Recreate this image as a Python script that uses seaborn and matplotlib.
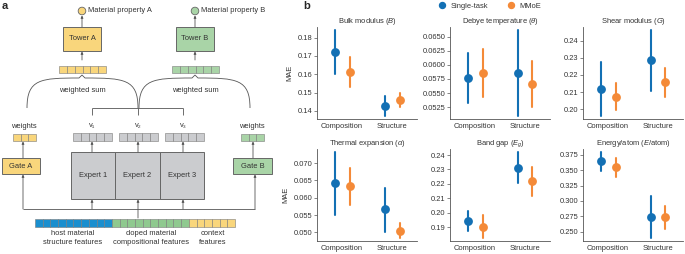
import numpy as np
import pandas as pd
import seaborn as sns
import matplotlib.pyplot as plt
from matplotlib.patches import Rectangle, Circle, PathPatch
from matplotlib.path import Path
from matplotlib.lines import Line2D
from matplotlib.ticker import FormatStrFormatter

sns.set_style("ticks")
plt.rcParams["font.family"] = ["Liberation Sans", "DejaVu Sans"]
plt.rcParams["mathtext.fontset"] = "custom"
plt.rcParams["mathtext.rm"] = "Liberation Sans"
plt.rcParams["mathtext.it"] = "Liberation Sans:italic"

# ---- data (panel b) ----
titles = [
    r"Bulk modulus ($B$)",
    r"Debye temperature ($\theta$)",
    r"Shear modulus ($G$)",
    r"Thermal expansion ($\alpha$)",
    r"Band gap ($E_g$)",
    r"Energy/atom ($E$/atom)",
]
categories = ["Composition", "Structure"]
models = ["Single-task", "MMoE"]

single_mae = [[0.1724, 0.1427], [0.0576, 0.0586], [0.2118, 0.2286],
              [0.0642, 0.0567], [0.1944, 0.2312], [0.3648, 0.2734]]
single_low = [[0.1602, 0.1375], [0.0532, 0.0510], [0.1963, 0.2108],
              [0.0550, 0.0502], [0.1874, 0.2203], [0.3490, 0.2393]]
single_high = [[0.1842, 0.1484], [0.0621, 0.0662], [0.2274, 0.2462],
               [0.0732, 0.0629], [0.2011, 0.2418], [0.3789, 0.3080]]
mmoe_mae = [[0.1615, 0.1460], [0.0586, 0.0566], [0.2072, 0.2159],
            [0.0633, 0.0504], [0.1902, 0.2217], [0.3545, 0.2734]]
mmoe_low = [[0.1533, 0.1420], [0.0543, 0.0526], [0.1994, 0.2073],
            [0.0579, 0.0483], [0.1822, 0.2115], [0.3393, 0.2538]]
mmoe_high = [[0.1693, 0.1498], [0.0628, 0.0607], [0.2152, 0.2241],
             [0.0686, 0.0526], [0.1981, 0.2314], [0.3701, 0.2917]]

ylims = [(0.1356, 0.1858), (0.0504, 0.0667), (0.1943, 0.2480),
         (0.0475, 0.0741), (0.1803, 0.2442), (0.2349, 0.3843)]
yticks = [np.arange(0.14, 0.1801, 0.01), np.arange(0.0525, 0.06501, 0.0025),
          np.arange(0.20, 0.2401, 0.01), np.arange(0.050, 0.07001, 0.005),
          np.arange(0.19, 0.2401, 0.01), np.arange(0.250, 0.3751, 0.025)]
yfmts = ["%.2f", "%.4f", "%.2f", "%.3f", "%.2f", "%.3f"]

blue = "#1370b4"
orange = "#f48a38"

rows = []
for i in range(len(titles)):
    for model, mae, lo, hi in [("Single-task", single_mae, single_low, single_high),
                               ("MMoE", mmoe_mae, mmoe_low, mmoe_high)]:
        for j, cat in enumerate(categories):
            for v in (lo[i][j], mae[i][j], hi[i][j]):
                rows.append({"prop": i, "model": model, "split": cat, "MAE": v})
df = pd.DataFrame(rows)

fig = plt.figure(figsize=(6.85, 2.54), dpi=100)

# ---- panel b ----
lefts = [317, 450, 583]
tops = [27, 149]
W, H = 685, 254
fs = 5.4
txt = "#333333"
for i, title in enumerate(titles):
    r, c = divmod(i, 3)
    ax = fig.add_axes([lefts[c] / W, 1 - (tops[r] + 92) / H, 100 / W, 92 / H])
    sns.pointplot(data=df[df["prop"] == i], x="split", y="MAE", hue="model",
                  order=categories, hue_order=models, palette=[blue, orange],
                  estimator="median", errorbar=lambda v: (v.min(), v.max()),
                  dodge=0.3, linestyle="none", markers="o", markersize=4.3,
                  err_kws={"linewidth": 1.5}, legend=False, ax=ax)
    ax.set_ylim(*ylims[i])
    ax.set_yticks(yticks[i])
    ax.yaxis.set_major_formatter(FormatStrFormatter(yfmts[i]))
    ax.set_title(title, fontsize=fs, color=txt, pad=3)
    ax.set_xlabel("")
    ax.set_ylabel("MAE" if c == 0 else "", fontsize=fs, color=txt, labelpad=3)
    ax.tick_params(axis="y", labelsize=fs, length=2, width=0.5, colors="#555", labelcolor=txt, pad=1.5)
    ax.tick_params(axis="x", labelsize=fs, length=0, pad=3, labelcolor=txt)
    sns.despine(ax=ax)
    for s in ("left", "bottom"):
        ax.spines[s].set_linewidth(0.6)
        ax.spines[s].set_color("#555555")

handles = [Line2D([], [], marker="o", linestyle="none", color=blue, markersize=4.3),
           Line2D([], [], marker="o", linestyle="none", color=orange, markersize=4.3)]
fig.legend(handles, models, loc="center", bbox_to_anchor=(0.712, 0.975), ncol=2,
           frameon=False, fontsize=fs, handletextpad=0.2, columnspacing=2.0, labelcolor=txt)

fig.text(303 / W, 1 - 6 / H, "b", fontsize=8, fontweight="bold", va="center", ha="left")
fig.text(2 / W, 1 - 6 / H, "a", fontsize=8, fontweight="bold", va="center", ha="left")

# ---- panel a (diagram) ----
ax_a = fig.add_axes([0, 0, 300 / W, 1])
ax_a.set_xlim(0, 300)
ax_a.set_ylim(254, 0)
ax_a.axis("off")

yellow = "#f9d67c"
green = "#a9d4a7"
gray = "#cbcccf"
fblue = "#1a8fcf"
fgreen = "#8fc98f"
edge = "#666666"
line = "#555555"


def cells(x0, y0, w, h, n, fc):
    for k in range(n):
        ax_a.add_patch(Rectangle((x0 + k * w / n, y0), w / n, h, fc=fc, ec="#7a7a7a", lw=0.4))


def box(x0, y0, w, h, fc, label):
    ax_a.add_patch(Rectangle((x0, y0), w, h, fc=fc, ec=edge, lw=0.7))
    if label:
        ax_a.text(x0 + w / 2, y0 + h / 2, label, fontsize=fs, ha="center", va="center", color=txt)


def arrow(x, y0, y1):
    ax_a.annotate("", xy=(x, y1), xytext=(x, y0),
                  arrowprops=dict(arrowstyle="-|>", lw=0.6, color=line, mutation_scale=3.5,
                                  shrinkA=0, shrinkB=0))


def seg(xs, ys):
    ax_a.plot(xs, ys, color=line, lw=0.6, solid_capstyle="butt")


def brace(xl, xr, xt, yb, yt):
    verts = [(xl, yb), (xl, yt + 4), (xl + 0.25 * (xt - xl), yt + 3), (xt - 3, yt + 3),
             (xt, yt), (xt + 3, yt + 3),
             (xr - 0.25 * (xr - xt), yt + 3), (xr, yt + 4), (xr, yb)]
    codes = [Path.MOVETO, Path.CURVE4, Path.CURVE4, Path.CURVE4,
             Path.LINETO, Path.LINETO, Path.CURVE4, Path.CURVE4, Path.CURVE4]
    ax_a.add_patch(PathPatch(Path(verts, codes), fc="none", ec=line, lw=0.6))


# outputs
for cx, fc, lab in [(82, yellow, "Material property A"), (195, green, "Material property B")]:
    ax_a.add_patch(Circle((cx, 11), 3.8, fc=fc, ec=edge, lw=0.6))
    ax_a.text(cx + 6, 11, lab, fontsize=fs, va="center", ha="left", color=txt)
    arrow(cx, 27, 15.5)
    arrow(cx, 60, 51.5)

box(63, 27, 38, 24, yellow, "Tower A")
box(176, 27, 38, 24, green, "Tower B")
cells(59, 66, 47, 7, 6, yellow)
cells(172, 66, 47, 7, 6, green)

brace(27, 138, 82, 108, 75)
brace(139, 250, 195, 108, 75)
ax_a.text(82, 90, "weighted sum", fontsize=fs, ha="center", va="center", color=txt)
ax_a.text(195, 90, "weighted sum", fontsize=fs, ha="center", va="center", color=txt)

# expert outputs
seg([92, 183], [108, 108])
for x in (92, 138, 183):
    seg([x, x], [108, 115])
for x, lab in [(92, "v\u2081"), (138, "v\u2082"), (183, "v\u2083")]:
    ax_a.text(x, 126, lab, fontsize=fs, ha="center", va="center", color=txt)
cells(73, 133, 39, 8, 5, gray)
cells(119, 133, 39, 8, 5, gray)
cells(165, 133, 39, 8, 5, gray)
for x in (92, 138, 183):
    arrow(x, 152, 141.5)

# gate weights
ax_a.text(24, 126, "weights", fontsize=fs, ha="center", va="center", color=txt)
ax_a.text(252, 126, "weights", fontsize=fs, ha="center", va="center", color=txt)
cells(13, 134, 23, 7, 3, yellow)
cells(241, 134, 23, 7, 3, green)
arrow(23, 158, 141.5)
arrow(253, 158, 141.5)
box(2, 158, 38, 16, yellow, "Gate A")
box(233, 158, 39, 16, green, "Gate B")

# experts
box(71, 152, 44.3, 47, gray, "Expert 1")
box(115.3, 152, 44.3, 47, gray, "Expert 2")
box(159.6, 152, 44.4, 47, gray, "Expert 3")

# input routing
seg([23, 255], [209, 209])
arrow(23, 209, 174.5)
arrow(255, 209, 174.5)
arrow(92, 209, 199.5)
arrow(183, 209, 199.5)
arrow(138, 218, 199.5)

# feature vector
cw = 200 / 26
cells(35, 219, cw * 10, 8, 10, fblue)
cells(35 + cw * 10, 219, cw * 10, 8, 10, fgreen)
cells(35 + cw * 20, 219, cw * 6, 8, 6, yellow)
for x, lab in [(73, "host material\nstructure features"),
               (151, "doped material\ncompositional features"),
               (213, "context\nfeatures")]:
    ax_a.text(x, 238, lab, fontsize=fs, ha="center", va="center", color=txt, linespacing=1.5)

fig.savefig("out.png", dpi=100)
